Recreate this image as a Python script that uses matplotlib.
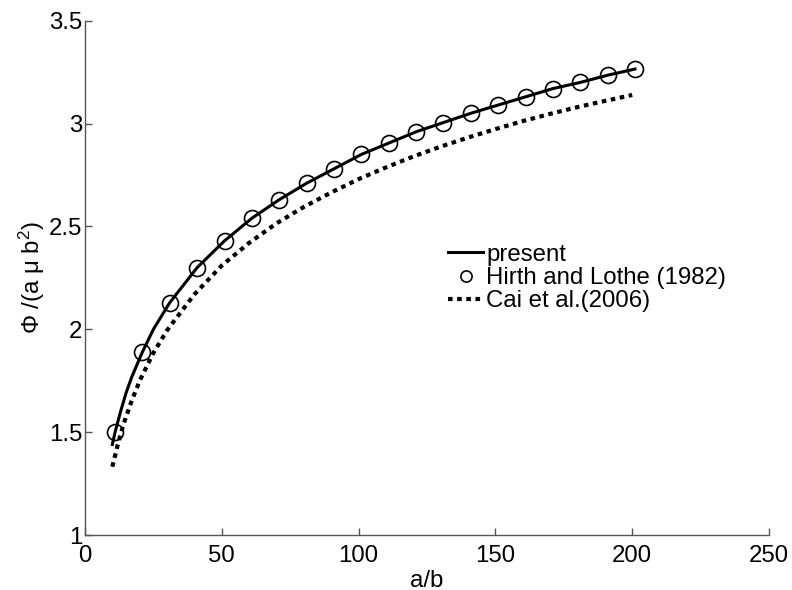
import matplotlib
matplotlib.use("Agg")
import matplotlib.pyplot as plt

plt.rcParams['font.family'] = ['Liberation Sans', 'DejaVu Sans']
plt.rcParams['mathtext.fontset'] = 'custom'
plt.rcParams['mathtext.rm'] = 'Liberation Sans'
plt.rcParams['mathtext.it'] = 'Liberation Sans'

# present (solid curve)
present_x = [10, 11, 13, 15, 17, 21, 25, 31, 41, 51, 61, 71, 81, 91, 101,
             111, 121, 131, 141, 151, 161, 171, 181, 191, 201]
present_y = [1.44, 1.50, 1.60, 1.69, 1.765, 1.89, 2.00, 2.13, 2.30, 2.43, 2.54,
             2.63, 2.71, 2.78, 2.85, 2.905, 2.96, 3.005, 3.05, 3.09, 3.13,
             3.17, 3.20, 3.235, 3.265]

# Hirth and Lothe (1982) markers
hirth_x = [11, 21, 31, 41, 51, 61, 71, 81, 91, 101, 111, 121, 131, 141, 151,
           161, 171, 181, 191, 201]
hirth_y = [1.50, 1.89, 2.13, 2.30, 2.43, 2.54, 2.63, 2.71, 2.78, 2.85, 2.905,
           2.96, 3.005, 3.05, 3.09, 3.13, 3.17, 3.20, 3.235, 3.265]

# Cai et al. (2006) (dotted curve)
cai_x = [10, 12, 14, 17, 20, 25, 30, 40, 50, 60, 70, 80, 90, 100, 110, 120,
         130, 140, 150, 160, 170, 180, 190, 200]
cai_y = [1.332, 1.44, 1.535, 1.65, 1.75, 1.885, 1.995, 2.17, 2.31, 2.42,
         2.515, 2.595, 2.665, 2.73, 2.787, 2.84, 2.888, 2.932, 2.973, 3.012,
         3.047, 3.08, 3.11, 3.139]

fig = plt.figure(figsize=(7.92, 5.90), dpi=100)
ax = fig.add_axes([0.1073, 0.0932, 0.8637, 0.8717])

ax.plot(present_x, present_y, color='black', lw=2.2, label='present')
ax.plot(hirth_x, hirth_y, linestyle='none', marker='o', markersize=11.5,
        markerfacecolor='none', markeredgecolor='black', markeredgewidth=1.2,
        label='Hirth and Lothe (1982)')
ax.plot(cai_x, cai_y, color='black', lw=3.0, linestyle=(0, (1.1, 1.1)),
        label='Cai et al.(2006)')

ax.set_xlim(0, 250)
ax.set_ylim(1, 3.5)
ax.set_xticks([0, 50, 100, 150, 200, 250])
ax.set_yticks([1, 1.5, 2, 2.5, 3, 3.5])
ax.set_xticklabels(['0', '50', '100', '150', '200', '250'])
ax.set_yticklabels(['1', '1.5', '2', '2.5', '3', '3.5'])

for side in ['top', 'right']:
    ax.spines[side].set_visible(False)
for side in ['left', 'bottom']:
    ax.spines[side].set_color('#555555')
    ax.spines[side].set_linewidth(1.0)
ax.tick_params(direction='in', length=5, width=1.0, color='#555555',
               labelsize=17.3)
ax.tick_params(axis='x', pad=7)
ax.tick_params(axis='y', pad=2)

ax.set_xlabel('a/b', fontsize=17.3, labelpad=2)
ax.set_ylabel(r'$\Phi$ /(a $\mu$ b$^2$)', fontsize=17.3, labelpad=1)

ax.legend(loc='upper left', bbox_to_anchor=(0.551, 0.607),
          bbox_transform=fig.transFigure, frameon=False, fontsize=17.3,
          handlelength=1.45, handletextpad=0.12, labelspacing=0.05,
          borderpad=0, markerscale=0.7)

fig.savefig('out.png', dpi=100)
